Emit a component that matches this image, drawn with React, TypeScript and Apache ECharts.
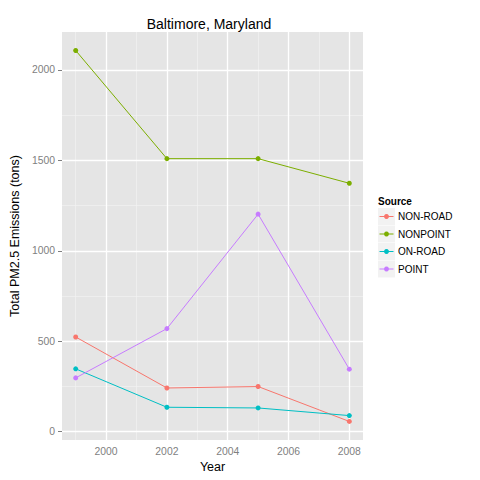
import React, { useEffect, useRef } from "react";
import * as echarts from "echarts";

const years = [1999, 2002, 2005, 2008];
const nonRoad = [522.94, 240.85, 248.93, 55.82];
const nonPoint = [2107.625, 1509.5, 1509.5, 1373.207];
const onRoad = [346.82, 134.31, 130.43, 88.28];
const point = [296.795, 569.26, 1202.49, 344.975];
const seriesNames = ["NON-ROAD", "NONPOINT", "ON-ROAD", "POINT"];
const colors = ["#F8766D", "#7CAE00", "#00BFC4", "#C77CFF"];

const xTicks = [2000, 2002, 2004, 2006, 2008];
const xMinor = [1999, 2001, 2003, 2005, 2007];
const yTicks = [0, 500, 1000, 1500, 2000];
const yMinor = [250, 750, 1250, 1750];

const FONT = "'Liberation Sans', Arial, sans-serif";

export default function App() {
  const ref = useRef<HTMLDivElement>(null);
  useEffect(() => {
    if (!ref.current) return;
    const chart = echarts.init(ref.current, undefined, { renderer: "svg" });
    const allValues = [nonRoad, nonPoint, onRoad, point];
    const gridLines = [
      ...xMinor.map((v) => ({ xAxis: v, lineStyle: { color: "#F2F2F2", width: 0.7, type: "solid" } })),
      ...yMinor.map((v) => ({ yAxis: v, lineStyle: { color: "#F2F2F2", width: 0.7, type: "solid" } })),
      ...xTicks.map((v) => ({ xAxis: v, lineStyle: { color: "#FFFFFF", width: 1.3, type: "solid" } })),
      ...yTicks.map((v) => ({ yAxis: v, lineStyle: { color: "#FFFFFF", width: 1.3, type: "solid" } })),
    ];
    const legendIcon =
      "path://M0,0 L0.01,0 L0,0.01 Z M17,17 L16.99,17 L17,16.99 Z M1.5,8 L15.5,8 L15.5,9 L1.5,9 Z M8.5,6 A2.5,2.5 0 1 1 8.49,6 Z";
    const option: any = {
      animation: false,
      color: colors,
      grid: {
        left: 55,
        right: 117,
        top: 32,
        bottom: 40,
        show: true,
        backgroundColor: "#E5E5E5",
        borderWidth: 0,
      },
      xAxis: {
        type: "value",
        min: 1998.55,
        max: 2008.45,
        name: "Year",
        nameLocation: "middle",
        nameGap: 19,
        nameTextStyle: { color: "#000", fontSize: 12.5, fontFamily: FONT },
        axisLine: { show: false },
        splitLine: { show: false },
        axisTick: {
          show: true,
          customValues: xTicks,
          length: 4,
          lineStyle: { color: "#7F7F7F", width: 1 },
        },
        axisLabel: {
          customValues: xTicks,
          formatter: (v: number) => String(v),
          color: "#7F7F7F",
          fontSize: 10.4,
          fontFamily: FONT,
          margin: 6,
        },
      },
      yAxis: {
        type: "value",
        min: -46.8,
        max: 2210,
        name: "Total PM2.5 Emissions (tons)",
        nameLocation: "middle",
        nameGap: 32,
        nameTextStyle: { color: "#000", fontSize: 12.5, fontFamily: FONT },
        axisLine: { show: false },
        splitLine: { show: false },
        axisTick: {
          show: true,
          customValues: yTicks,
          length: 4,
          lineStyle: { color: "#7F7F7F", width: 1 },
        },
        axisLabel: {
          customValues: yTicks,
          formatter: (v: number) => String(v),
          color: "#7F7F7F",
          fontSize: 10.4,
          fontFamily: FONT,
          margin: 7,
        },
      },
      legend: {
        orient: "vertical",
        left: 378,
        top: 208,
        padding: 0,
        itemWidth: 17,
        itemHeight: 17,
        itemGap: 0.5,
        icon: legendIcon,
        data: seriesNames,
        textStyle: { fontSize: 10, color: "#000", fontFamily: FONT, padding: [0, 0, 0, -2] },
        selectedMode: false,
      },
      graphic: [
        {
          type: "text",
          x: 209,
          y: 24,
          style: {
            text: "Baltimore, Maryland",
            fill: "#000",
            font: `14px ${FONT}`,
            textAlign: "center",
            textVerticalAlign: "middle",
          },
        },
        {
          type: "text",
          x: 378,
          y: 201,
          style: {
            text: "Source",
            fill: "#000",
            font: `bold 10px ${FONT}`,
            textAlign: "left",
            textVerticalAlign: "middle",
          },
        },
        ...seriesNames.map((_, i) => ({
          type: "rect",
          z: -1,
          shape: { x: 378, y: 208 + i * 17.5, width: 17, height: 17 },
          style: { fill: "#F2F2F2" },
        })),
      ],
      series: [
        {
          name: "grid",
          type: "line",
          data: [],
          z: 1,
          silent: true,
          markLine: {
            silent: true,
            symbol: "none",
            label: { show: false },
            z: 1,
            data: gridLines,
          },
        },
        ...seriesNames.map((name, i) => ({
          name,
          type: "line",
          z: 3,
          data: years.map((y, j) => [y, allValues[i][j]]),
          symbol: "circle",
          symbolSize: 5,
          lineStyle: { width: 1, color: colors[i] },
          itemStyle: { color: colors[i] },
        })),
      ],
    };
    chart.setOption(option);
    return () => chart.dispose();
  }, []);
  return (
    <div
      ref={ref}
      style={{ position: "fixed", left: 0, top: 0, width: 480, height: 480, background: "#fff" }}
    />
  );
}
